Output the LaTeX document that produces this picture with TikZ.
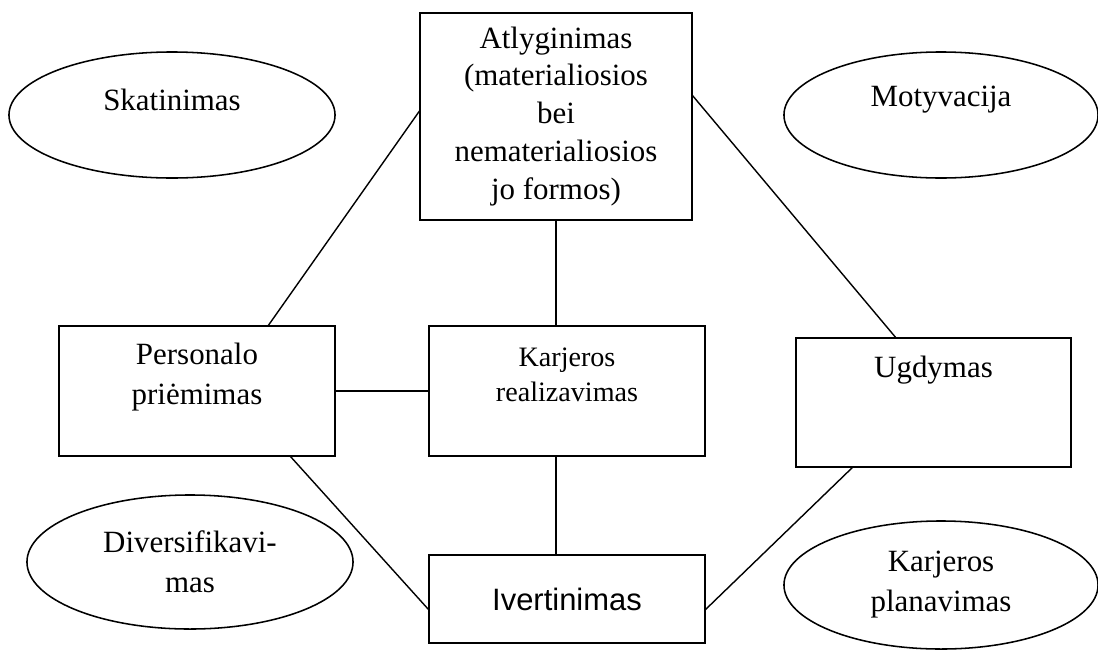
\documentclass[tikz,border=0pt]{standalone}
\usepackage{fontspec}
\setmainfont{Liberation Serif}
\newfontfamily\arialfont{Liberation Sans}
\usepackage{tikz}
\usetikzlibrary{shapes.geometric, calc}

\begin{document}
\begin{tikzpicture}[
    x=0.025cm, y=-0.025cm,
    box/.style={draw, line width=1.2pt, inner sep=0pt, outer sep=0pt,
                minimum width=6.9cm, minimum height=3.25cm,
                align=center, font=\fontsize{22}{27}\selectfont},
    oval/.style={draw, ellipse, line width=1.1pt, inner sep=0pt,
                 minimum width=8.15cm, minimum height=3.15cm,
                 align=center, font=\fontsize{22}{28.5}\selectfont},
    txt/.style={align=center, font=\fontsize{22}{28.5}\selectfont},
    link/.style={line width=1pt},
  ]
    \useasboundingbox (0,0) rectangle (1098,652);

    % boxes
    \node[box, minimum width=6.8cm, minimum height=5.175cm] (pay) at (556,116.5)
      {Atlyginimas\\(materialiosios\\bei\\nematerialiosios\\jo formos)};
    \node[box, label={[txt, yshift=0.35cm]center:{Personalo\\priėmimas}}] (hire) at (197,391) {};
    \node[box, label={[txt, yshift=0.4cm, font=\fontsize{20}{25}\selectfont]center:{Karjeros\\realizavimas}}] (career) at (567,391) {};
    \node[box, minimum width=6.875cm, minimum height=3.225cm,
          label={[txt, yshift=0.8cm]center:Ugdymas}] (dev) at (933.5,402.5) {};
    \node[box, minimum height=2.2cm, font=\arialfont\fontsize{22}{27}\selectfont] (eval) at (567,599) {Ivertinimas};

    % ovals
    \node[oval, label={[txt, yshift=0.375cm]center:Skatinimas}] (encour) at (172,115) {};
    \node[oval, minimum width=7.85cm, label={[txt, yshift=0.375cm]center:Motyvacija}] (motiv) at (941,115) {};
    \node[oval, minimum height=3.35cm] (divers) at (190,562) {Diversifikavi-\\mas};
    \node[oval, minimum width=7.85cm, minimum height=3.2cm] (plan) at (941,585) {Karjeros\\planavimas};

    % links
    \draw[link] (pay.south) -- (pay.south |- career.north);
    \draw[link] (pay.south |- career.south) -- (pay.south |- eval.north);
    \draw[link] (hire.east) -- (hire.east -| career.west);
    \draw[link] ($(career.north east)!0.48!(career.south east)$) -- ($(career.north east)!0.48!(career.south east)$ -| dev.west);
    \draw[link] ($(pay.north west)!0.47!(pay.south west)$) -- ($(hire.north west)!0.757!(hire.north east)$);
    \draw[link] ($(pay.north east)!0.396!(pay.south east)$) -- ($(dev.north west)!0.364!(dev.north east)$);
    \draw[link] ($(hire.south west)!0.837!(hire.south east)$) -- ($(eval.north west)!0.625!(eval.south west)$);
    \draw[link] ($(dev.south west)!0.207!(dev.south east)$) -- ($(eval.north east)!0.625!(eval.south east)$);
\end{tikzpicture}
\end{document}
